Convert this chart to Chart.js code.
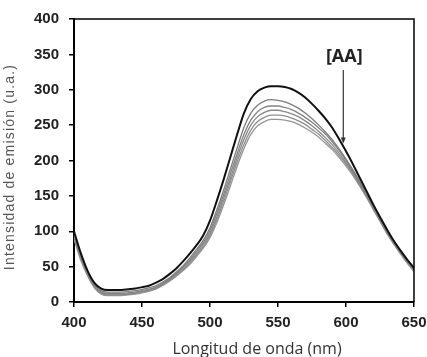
<!DOCTYPE html>
<html>
<head>
<meta charset="utf-8">
<script src="https://cdn.jsdelivr.net/npm/chart.js@4.4.1/dist/chart.umd.min.js"></script>
<style>
html,body{margin:0;padding:0;background:#fff;}
#wrap{width:427px;height:357px;position:relative;}
</style>
</head>
<body>
<div id="wrap"><canvas id="c" width="427" height="357"></canvas></div>
<script>
// Wavelength (nm)
const wavelengths = [400,405,410,415,420,425,430,435,440,445,450,455,460,465,470,475,480,485,490,495,500,505,510,515,520,525,530,535,540,545,550,555,560,565,570,575,580,585,590,595,600,605,610,615,620,625,630,635,640,645,650];

// Emission intensity (u.a.) – without AA (black) and increasing [AA] (gray)
const series0 = [100,69,44,27,19,17,17,17,18,19,21,23,27,32,39,47,57,68,80,94,115,143,173,205,237,267,287,298,303,305,305,304,301,296,289,280,270,259,246,230,213,195,176,157,138,120,103,87,73,60,48];
const series1 = [97,67,42,25,16,14,14,14,15,16,18,20,23,28,34,42,51,62,74,87,105,130,158,188,218,247,267,278,284,286,285,283,279,274,267,259,250,240,229,216,202,187,171,154,136,118,101,86,72,59,47];
const series2 = [95,65,40,23,14,12,12,12,13,14,16,18,21,26,32,40,49,59,71,84,101,125,152,181,210,237,257,269,275,277,277,275,272,267,261,254,246,237,226,214,200,185,169,152,135,117,100,85,71,58,46];
const series3 = [93,63,39,22,13,11,11,11,12,13,15,17,20,25,31,38,47,57,68,81,97,120,147,175,204,230,250,262,268,271,271,269,266,262,256,249,241,232,222,210,197,183,167,150,133,116,99,84,70,57,45];
const series4 = [91,61,38,21,12,10,10,10,11,12,14,16,19,24,30,37,45,55,66,78,94,116,142,170,198,223,243,255,261,264,264,263,260,256,251,244,237,228,218,207,195,181,165,149,132,115,98,83,69,56,44];
const series5 = [89,59,37,20,11,9,9,9,10,11,13,15,18,23,29,36,44,53,64,76,91,112,137,164,192,217,237,249,255,258,258,257,255,251,246,240,233,224,215,204,192,179,164,148,131,114,97,82,68,55,43];

const allSeries = [series0, series1, series2, series3, series4, series5];
const lineColors = ['#111111','#7c7c7c','#838383','#898989','#8f8f8f','#959595'];
const lineWidths = [2, 1.3, 1.3, 1.3, 1.3, 1.3];

const xTicks = [400,450,500,550,600,650];
const yTicks = [0,50,100,150,200,250,300,350,400];

const xTitle = 'Longitud de onda (nm)';
const yTitle = 'Intensidad de emisión (u.a.)';
const annotText = '[AA]';
const arrowX = 598;      // nm
const arrowFrom = 328;   // u.a.
const arrowTo = 224;     // u.a.
const labelY = 346;      // u.a.

const datasets = allSeries.map((s, i) => ({
  data: s.map((v, k) => ({x: wavelengths[k], y: v})),
  borderColor: lineColors[i],
  borderWidth: lineWidths[i],
  pointRadius: 0,
  fill: false,
  tension: 0.4,
  cubicInterpolationMode: 'monotone'
}));

const framePlugin = {
  id: 'frame',
  afterDraw(chart) {
    const {ctx, chartArea: a, scales} = chart;
    ctx.save();
    ctx.strokeStyle = '#000';
    ctx.lineWidth = 1.5;
    ctx.beginPath();
    ctx.moveTo(a.left, a.top);
    ctx.lineTo(a.right, a.top);
    ctx.lineTo(a.right, a.bottom);
    ctx.stroke();
    // x axis title
    ctx.fillStyle = '#333';
    ctx.font = '16px "Open Sans", sans-serif';
    ctx.textAlign = 'center';
    ctx.textBaseline = 'middle';
    ctx.fillText(xTitle, 257, 349);
    // y axis title
    ctx.save();
    ctx.translate(10, 167);
    ctx.rotate(-Math.PI / 2);
    ctx.fillStyle = '#555';
    ctx.font = '14px "Liberation Sans", Arial, sans-serif';
    try { ctx.letterSpacing = '1.2px'; } catch (e) {}
    ctx.textAlign = 'center';
    ctx.textBaseline = 'middle';
    ctx.fillText(yTitle, 0, 0);
    ctx.restore();
    // annotation
    const x = scales.x.getPixelForValue(arrowX);
    const y1 = scales.y.getPixelForValue(arrowFrom);
    const y2 = scales.y.getPixelForValue(arrowTo);
    const ty = scales.y.getPixelForValue(labelY);
    ctx.strokeStyle = '#333';
    ctx.fillStyle = '#333';
    ctx.lineWidth = 1.2;
    ctx.beginPath();
    ctx.moveTo(x, y1);
    ctx.lineTo(x, y2 - 4);
    ctx.stroke();
    ctx.beginPath();
    ctx.moveTo(x, y2);
    ctx.lineTo(x - 2.5, y2 - 6);
    ctx.lineTo(x + 2.5, y2 - 6);
    ctx.closePath();
    ctx.fill();
    ctx.fillStyle = '#222';
    ctx.font = 'bold 18px "Open Sans", sans-serif';
    ctx.fillText(annotText, x + 1, ty);
    ctx.restore();
  }
};

new Chart(document.getElementById('c'), {
  type: 'line',
  data: { datasets },
  plugins: [framePlugin],
  options: {
    responsive: false,
    animation: false,
    events: [],
    layout: { padding: { top: 19, right: 13, left: 0, bottom: 0 } },
    plugins: { legend: { display: false }, tooltip: { enabled: false } },
    scales: {
      x: {
        type: 'linear',
        min: 400, max: 650,
        afterBuildTicks(scale) { scale.ticks = xTicks.map(v => ({value: v})); },
        afterFit(scale) { scale.height = 55; scale.paddingRight = 0; scale.paddingLeft = 0; },
        ticks: { color: '#222', font: { family: '"Liberation Sans", Arial, sans-serif', size: 15, weight: 'bold' }, padding: 7, maxRotation: 0, autoSkip: false },
        grid: { drawOnChartArea: false, drawTicks: true, tickLength: 5, color: '#000', lineWidth: 1.5 },
        border: { display: true, color: '#000', width: 2 },
        title: { display: false }
      },
      y: {
        min: 0, max: 400,
        afterBuildTicks(scale) { scale.ticks = yTicks.map(v => ({value: v})); },
        afterFit(scale) { scale.width = 74; scale.paddingTop = 0; scale.paddingBottom = 0; },
        ticks: { color: '#222', font: { family: '"Liberation Sans", Arial, sans-serif', size: 15, weight: 'bold' }, padding: 10, autoSkip: false },
        grid: { drawOnChartArea: false, drawTicks: true, tickLength: 5, color: '#000', lineWidth: 1.5 },
        border: { display: true, color: '#000', width: 2 },
        title: { display: false }
      }
    }
  }
});
</script>
</body>
</html>
